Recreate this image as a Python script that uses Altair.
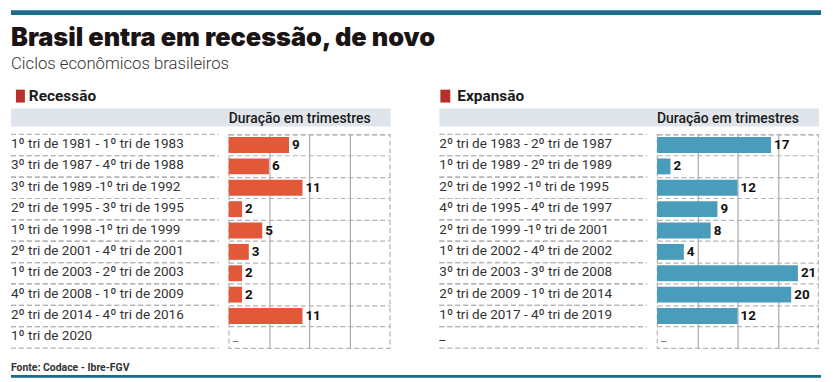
import altair as alt
import pandas as pd

# ---- data ----
rec_labels = [
    "1º tri de 1981 - 1º tri de 1983",
    "3º tri de 1987 - 4º tri de 1988",
    "3º tri de 1989 -1º tri de 1992",
    "2º tri de 1995 - 3º tri de 1995",
    "1º tri de 1998 -1º tri de 1999",
    "2º tri de 2001 - 4º tri de 2001",
    "1º tri de 2003 - 2º tri de 2003",
    "4º tri de 2008 - 1º tri de 2009",
    "2º tri de 2014 - 4º tri de 2016",
    "1º tri de 2020",
]
rec_values = [9, 6, 11, 2, 5, 3, 2, 2, 11, None]

exp_labels = [
    "2º tri de 1983 - 2º tri de 1987",
    "1º tri de 1989 - 2º tri de 1989",
    "2º tri de 1992 -1º tri de 1995",
    "4º tri de 1995 - 4º tri de 1997",
    "2º tri de 1999 -1º tri de 2001",
    "1º tri de 2002 - 4º tri de 2002",
    "3º tri de 2003 - 3º tri de 2008",
    "2º tri de 2009 - 1º tri de 2014",
    "1º tri de 2017 - 4º tri de 2019",
    "_",
]
exp_values = [17, 2, 12, 9, 8, 4, 21, 20, 12, None]

x_domain = [0, 24]
grid_values = [6, 12, 18]

TITLE = "Brasil entra em recessão, de novo"
SUBTITLE = "Ciclos econômicos brasileiros"
SOURCE = "Fonte: Codace - Ibre-FGV"
AXIS_NOTE = "Duração em trimestres"

W, H = 162, 215
FONT = "Roboto"
DASH = [5, 3]
DASH_COLOR = "#b3b3b3"
TEAL = "#1b6b8c"

one = pd.DataFrame({"k": [0]})


def panel(labels, values, color, header, sq_x0, sq_x1, extras=None):
    df = pd.DataFrame({
        "row": labels,
        "value": values,
        "txt": [str(v) if v is not None else "_" for v in values],
        "has": [v is not None for v in values],
    })
    ysc = alt.Scale(domain=labels, paddingInner=0, paddingOuter=0)
    yax = alt.Axis(labels=False, ticks=False, domain=False, grid=True,
                   gridDash=DASH, gridColor=DASH_COLOR, gridWidth=1.2,
                   bandPosition=0, title=None)
    xsc = alt.Scale(domain=x_domain, nice=False)
    xax = alt.Axis(values=grid_values, labels=False, ticks=False, domain=False,
                   grid=True, gridColor="#ababab", gridWidth=1.2, title=None)

    base = alt.Chart(df)

    band = alt.Chart(one).mark_rect(color="#dfe5ea").encode(
        x=alt.value(-219), x2=alt.value(W + 1), y=alt.value(-26), y2=alt.value(-8))
    square = alt.Chart(one).mark_rect(color="#b8302a").encode(
        x=alt.value(sq_x0), x2=alt.value(sq_x1), y=alt.value(-45), y2=alt.value(-32))
    head = alt.Chart(one).mark_text(
        text=header, align="left", baseline="alphabetic", font=FONT,
        fontSize=15.5, fontWeight="bold", color="#1a1a1a").encode(
        x=alt.value(-201), y=alt.value(-34))
    note = alt.Chart(one).mark_text(
        text=AXIS_NOTE, align="left", baseline="alphabetic", font=FONT,
        fontSize=14, fontWeight=500, color="#1a1a1a").encode(
        x=alt.value(0), y=alt.value(-11))

    bars = base.mark_bar(color=color, size=16).encode(
        x=alt.X("value:Q", scale=xsc, axis=xax),
        y=alt.Y("row:N", scale=ysc, axis=yax, sort=labels),
    )
    vals = base.transform_filter("datum.has").mark_text(
        align="left", baseline="middle", dx=3, font=FONT, fontSize=13.5,
        fontWeight="bold", color="#111111").encode(
        x="value:Q", y=alt.Y("row:N", sort=labels), text="txt:N")
    missing = base.transform_filter("!datum.has").mark_text(
        align="left", baseline="middle", dx=4, dy=0, font=FONT, fontSize=12,
        color="#777777").encode(
        x=alt.datum(0), y=alt.Y("row:N", sort=labels), text="txt:N")
    row_text = base.mark_text(
        align="left", baseline="middle", dy=-1, font=FONT, fontSize=13.6,
        color="#333333").encode(
        x=alt.value(-219), y=alt.Y("row:N", sort=labels), text="row:N")
    sep_top = base.mark_rule(strokeDash=DASH, color=DASH_COLOR, strokeWidth=1.2).encode(
        x=alt.value(-219), x2=alt.value(-10),
        y=alt.Y("row:N", sort=labels, bandPosition=0))
    sep_bot = base.mark_rule(strokeDash=DASH, color=DASH_COLOR, strokeWidth=1.2).encode(
        x=alt.value(-219), x2=alt.value(-10),
        y=alt.Y("row:N", sort=labels, bandPosition=1))

    layers = [band, square, head, note, bars, vals, missing, row_text, sep_top, sep_bot]
    if extras:
        layers += extras
    return alt.layer(*layers).properties(width=W, height=H)


top_bar = alt.Chart(one).mark_rect(color=TEAL).encode(
    x=alt.value(-219), x2=alt.value(596), y=alt.value(-125), y2=alt.value(-120))
bottom_bar = alt.Chart(one).mark_rect(color=TEAL).encode(
    x=alt.value(-219), x2=alt.value(596), y=alt.value(242), y2=alt.value(245))
title = alt.Chart(one).mark_text(
    text=TITLE, align="left", baseline="alphabetic", font="Inter", fontSize=25.5,
    fontWeight=900, color="#1a1414").encode(x=alt.value(-219), y=alt.value(-89))
subtitle = alt.Chart(one).mark_text(
    text=SUBTITLE, align="left", baseline="alphabetic", font=FONT, fontSize=16.8,
    fontWeight=300, color="#333333").encode(x=alt.value(-219), y=alt.value(-66))
source = alt.Chart(one).mark_text(
    text=SOURCE, align="left", baseline="alphabetic", font=FONT, fontSize=10.5,
    fontWeight="bold", color="#333333").encode(x=alt.value(-219), y=alt.value(238))

left = panel(rec_labels, rec_values, "#e2593a", "Recessão", -214, -205,
             extras=[top_bar, bottom_bar, title, subtitle, source])
right = panel(exp_labels, exp_values, "#4a9dba", "Expansão", -218, -208)

chart = alt.hconcat(left, right, spacing=269, bounds="flush").properties(
    padding={"left": 1, "top": 0, "right": 3, "bottom": 0},
    background="white",
).configure_view(stroke=DASH_COLOR, strokeDash=DASH, strokeWidth=1.2)

chart.save("out.html", embed_options={"renderer": "svg", "actions": False})
